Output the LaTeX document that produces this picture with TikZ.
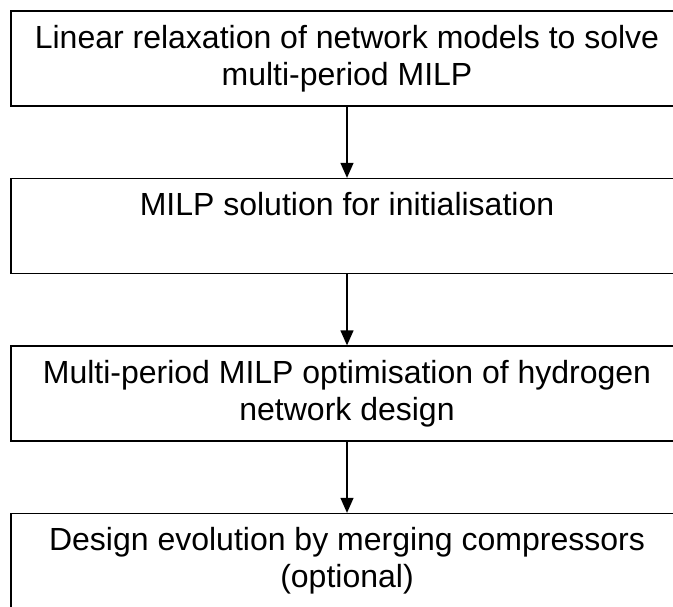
\documentclass[tikz,border=0pt]{standalone}
\usepackage{fontspec}
\setmainfont{Liberation Sans}
\usepackage{tikz}
\usetikzlibrary{positioning, arrows.meta}

\begin{document}
\begin{tikzpicture}[x=1pt, y=1pt, >={Triangle[width=13pt,length=15pt]},
				node distance=167.5pt, on grid, line width=1.3pt,
				stage/.style={draw, rectangle, minimum width=672pt, minimum height=95pt,
					align=center, font=\fontsize{32pt}{37pt}\selectfont} ]
				\useasboundingbox (0,0) rectangle (673,-607);
				
				\node[stage]  (relax)                  at (347,-58.5) {Linear relaxation of network models to solve\\ multi-period MILP};
				\node[stage]  (init)  [below of=relax] {MILP solution for initialisation\\ \vphantom{p}};
				\node[stage]  (optim) [below of=init]  {Multi-period MILP optimisation of hydrogen\\ network design};
				\node[stage]  (evol)  [below of=optim] {Design evolution by merging compressors\\ (optional)};
				
				%Ligacoes entre etapas:
				\path[->] (relax) edge (init)
				(init)  edge (optim)
				(optim) edge (evol);
			\end{tikzpicture}
\end{document}
